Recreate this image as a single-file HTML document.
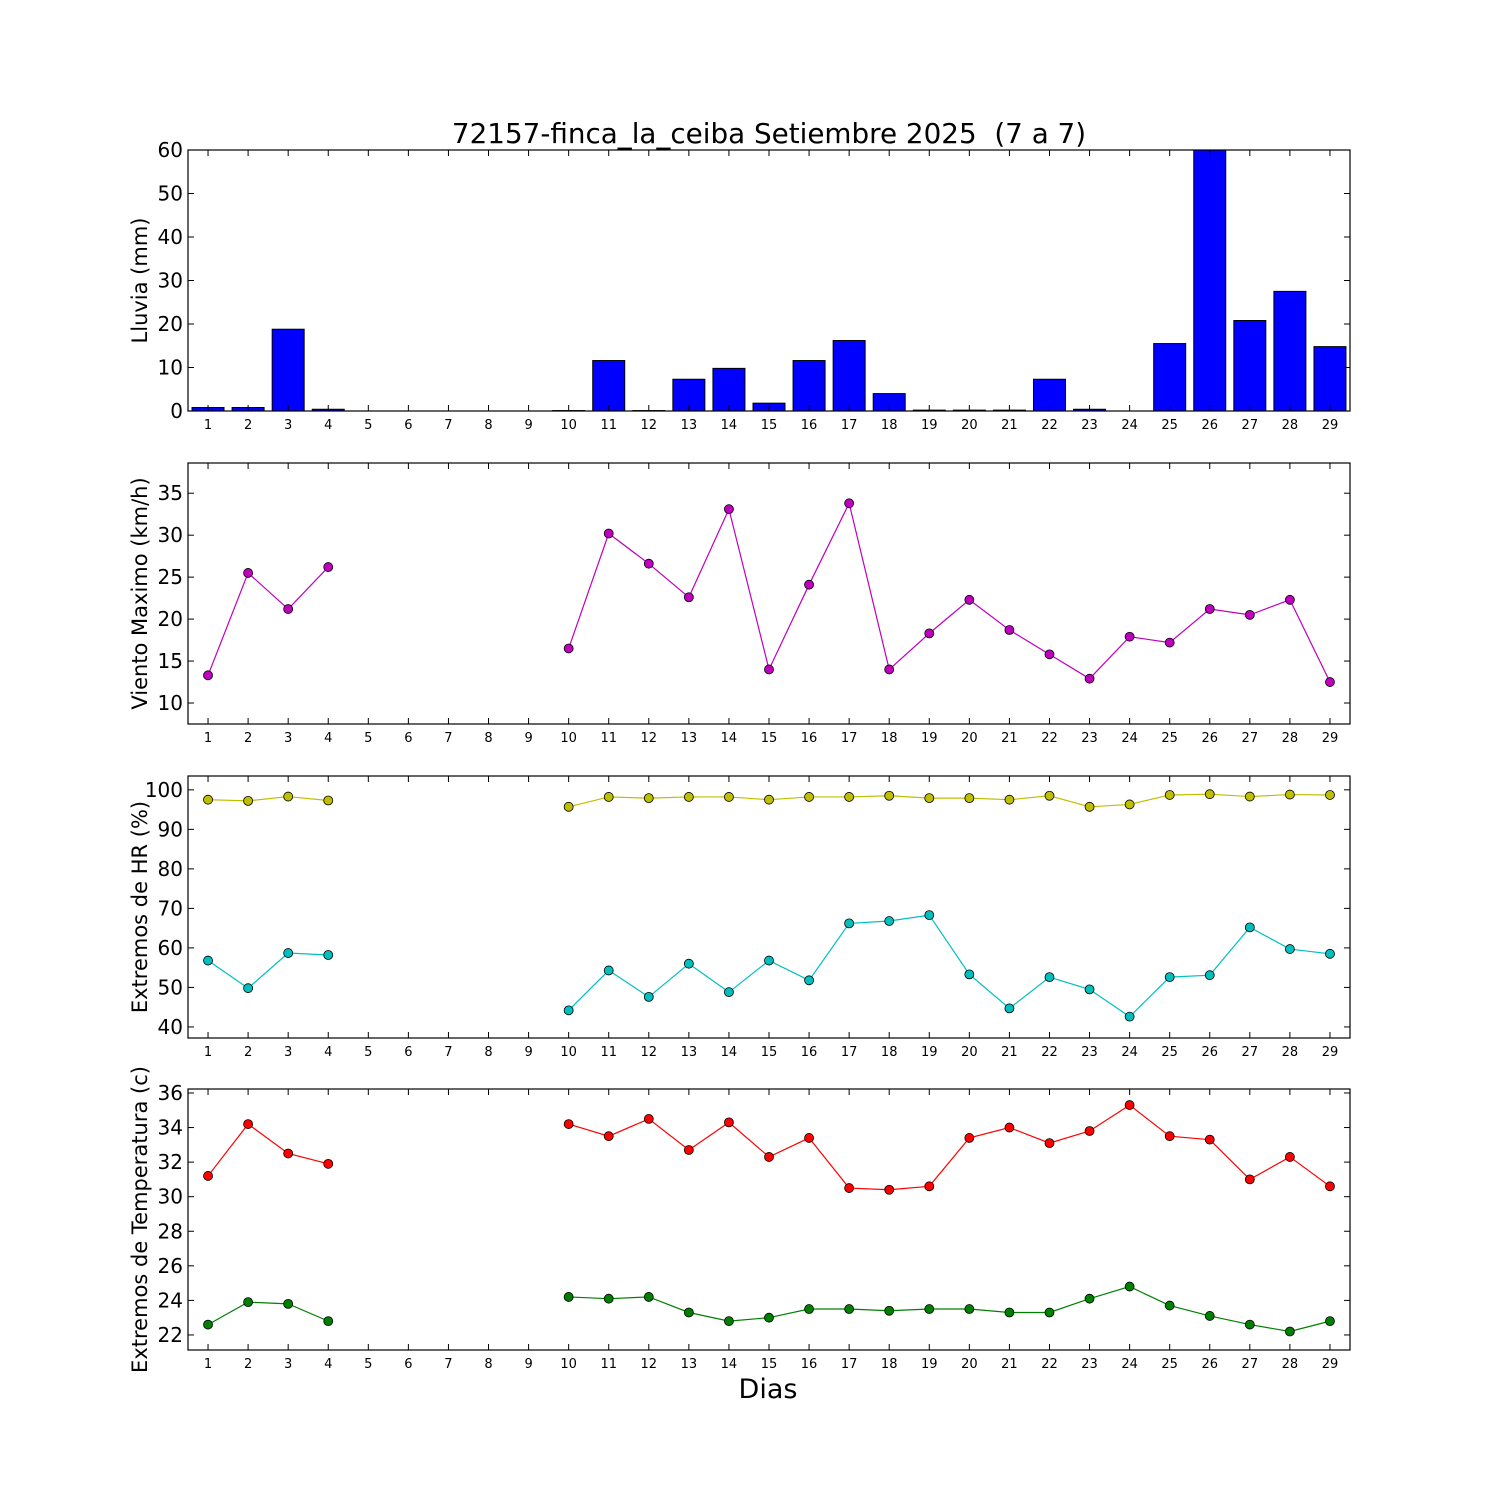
<!DOCTYPE html>
<html><head><meta charset="utf-8"><style>
body{margin:0;background:#fff}
svg{display:block;font-family:"DejaVu Sans","Liberation Sans",sans-serif}
</style></head><body>
<svg id="c" width="1500" height="1500" viewBox="0 0 1500 1500" xmlns="http://www.w3.org/2000/svg">
<rect width="1500" height="1500" fill="#fff"/>
<text x="769" y="143" font-size="27.8" text-anchor="middle">72157-finca_la_ceiba Setiembre 2025 &#160;(7 a 7)</text>
<text x="768" y="1398" font-size="27" text-anchor="middle">Dias</text>
</svg>
<script>
const days = [1,2,3,4,5,6,7,8,9,10,11,12,13,14,15,16,17,18,19,20,21,22,23,24,25,26,27,28,29];
const rain = [0.8,0.8,18.8,0.4,0,0,0,0,0,0.1,11.6,0.1,7.3,9.8,1.8,11.6,16.2,4.0,0.2,0.2,0.2,7.3,0.4,0,15.5,61,20.8,27.5,14.8];
const wind = [13.3,25.5,21.2,26.2,null,null,null,null,null,16.5,30.2,26.6,22.6,33.1,14.0,24.1,33.8,14.0,18.3,22.3,18.7,15.8,12.9,17.9,17.2,21.2,20.5,22.3,12.5];
const hrMax = [97.5,97.2,98.3,97.3,null,null,null,null,null,95.7,98.2,97.9,98.2,98.2,97.5,98.2,98.2,98.5,97.9,97.9,97.5,98.5,95.7,96.3,98.7,98.9,98.3,98.8,98.7];
const hrMin = [56.8,49.8,58.7,58.2,null,null,null,null,null,44.2,54.3,47.6,56.0,48.8,56.8,51.8,66.2,66.8,68.3,53.3,44.7,52.6,49.5,42.6,52.6,53.1,65.2,59.7,58.5];
const tMax = [31.2,34.2,32.5,31.9,null,null,null,null,null,34.2,33.5,34.5,32.7,34.3,32.3,33.4,30.5,30.4,30.6,33.4,34.0,33.1,33.8,35.3,33.5,33.3,31.0,32.3,30.6];
const tMin = [22.6,23.9,23.8,22.8,null,null,null,null,null,24.2,24.1,24.2,23.3,22.8,23.0,23.5,23.5,23.4,23.5,23.5,23.3,23.3,24.1,24.8,23.7,23.1,22.6,22.2,22.8];
const rainTicks = [0,10,20,30,40,50,60];
const windTicks = [10,15,20,25,30,35];
const hrTicks = [40,50,60,70,80,90,100];
const tTicks = [22,24,26,28,30,32,34,36];

const NS="http://www.w3.org/2000/svg";
const svg=document.getElementById('c');
function mk(tag,attrs,parent){const e=document.createElementNS(NS,tag);for(const k in attrs)e.setAttribute(k,attrs[k]);(parent||svg).appendChild(e);return e;}
const X0=188,X1=1350;
function xs(d){return X0+(d-0.5)*(X1-X0)/29;}

function panel(name,top,bot,ymin,ymax,ticks,label){
  const g=mk('g',{});
  
  
  const ys=v=>bot-(v-ymin)*(bot-top)/(ymax-ymin);
  const clipId='clip-'+name;
  const cp=mk('clipPath',{id:clipId},g);
  mk('rect',{x:X0,y:top,width:X1-X0,height:bot-top},cp);
  const plot=mk('g',{'clip-path':'url(#'+clipId+')'},g);
  ticks.forEach(t=>{
    const y=ys(t);
    mk('line',{x1:X0,x2:X0+6,y1:y,y2:y,stroke:'#000'},g);
    mk('line',{x1:X1,x2:X1-6,y1:y,y2:y,stroke:'#000'},g);
    const tx=mk('text',{x:X0-5,y:y+7,'font-size':20,'text-anchor':'end'},g);
    tx.textContent=t;
    
    
  });
  days.forEach(d=>{
    const x=xs(d);
    mk('line',{x1:x,x2:x,y1:bot,y2:bot-6,stroke:'#000'},g);
    mk('line',{x1:x,x2:x,y1:top,y2:top+6,stroke:'#000'},g);
    const tx=mk('text',{x:x,y:bot+18,'font-size':13,'text-anchor':'middle'},g);
    tx.textContent=d;
    
    
  });
  const yl=mk('text',{x:0,y:0,'font-size':21,'text-anchor':'middle',transform:`translate(147,${(top+bot)/2}) rotate(-90)`},g);
  yl.textContent=label;
  
  
  return {g,plot,ys,top,bot};
}
function frame(p){mk('rect',{x:X0,y:p.top,width:X1-X0,height:p.bot-p.top,fill:'none',stroke:'#000','stroke-width':1.2},p.g);}
function series(p,vals,color,name){
  let segs=[],cur=[];
  vals.forEach((v,i)=>{if(v==null){if(cur.length)segs.push(cur);cur=[];}else cur.push([xs(days[i]),p.ys(v)]);});
  if(cur.length)segs.push(cur);
  segs.forEach(s=>{
    const pl=mk('polyline',{points:s.map(q=>q.join(',')).join(' '),fill:'none',stroke:color,'stroke-width':1.2},p.plot);
    
    
  });
  vals.forEach((v,i)=>{if(v==null)return;
    const c=mk('circle',{cx:xs(days[i]),cy:p.ys(v),r:4.5,fill:color,stroke:'#000','stroke-width':0.8},p.plot);
    
    
  });
}
const p1=panel('rain',150,411,0,60,rainTicks,'Lluvia (mm)');
rain.forEach((v,i)=>{
  if(v<=0)return;
  const x=xs(days[i])-16,y=p1.ys(v);
  const r=mk('rect',{x:x,y:y,width:32,height:p1.bot-y,fill:'#0000ff',stroke:'#000','stroke-width':1},p1.plot);
  
  
});
frame(p1);
const p2=panel('wind',463,724,7.5,38.6,windTicks,'Viento Maximo (km/h)');
series(p2,wind,'#bf00bf','wind');frame(p2);
const p3=panel('humidity',776,1038,37.2,103.5,hrTicks,'Extremos de HR (%)');
series(p3,hrMax,'#bfbf00','hr-max');series(p3,hrMin,'#00bfbf','hr-min');frame(p3);
const p4=panel('temperature',1089,1350,21.13,36.23,tTicks,'Extremos de Temperatura (c)');
series(p4,tMax,'#ff0000','temp-max');series(p4,tMin,'#008000','temp-min');frame(p4);
</script>
</body></html>
